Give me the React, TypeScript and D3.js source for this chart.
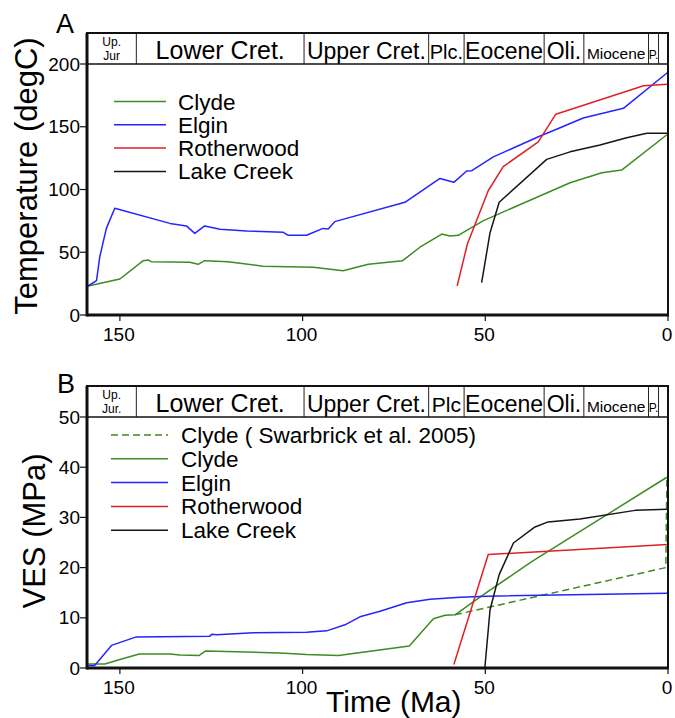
import React from "react";
import * as d3 from "d3";

// ---------- data ----------
const periodNamesTop = ["Up.|Jur", "Lower Cret.", "Upper Cret.", "Plc.", "Eocene", "Oli.", "Miocene", "P.", ""];
const periodNamesBottom = ["Up.|Jur.", "Lower Cret.", "Upper Cret.", "Plc", "Eocene", "Oli.", "Miocene", "P.", ""];
const periodBounds = [159, 145.5, 99.6, 65.5, 55.8, 33.9, 23.03, 5.33, 2.59, 0];

const timeTicks = [150, 100, 50, 0];
const tempTicks = [0, 50, 100, 150, 200];
const vesTicks = [0, 10, 20, 30, 40, 50];

// Panel A: temperature (degC)
const clydeTempAge = [158.7, 150, 143.6, 142.3, 141.4, 130.9, 128.6, 126.8, 120.4, 110.8, 97.1, 88.9, 82, 72.6, 67.9, 61.9, 59.7, 57.4, 50.5, 26.8, 18.1, 12.7, 0.3];
const clydeTemp = [23.1, 28.7, 43.3, 43.8, 42.5, 42, 40.4, 43.3, 42.5, 38.8, 38, 35.3, 40.4, 43.3, 54, 64.5, 63, 63.5, 75.2, 105.4, 113.4, 115.5, 143.6];
const elginTempAge = [158.7, 156.4, 155.5, 153.7, 151.4, 136.3, 131.8, 129.5, 126.8, 122.6, 115.3, 105.3, 103.9, 98.9, 94.4, 93, 91.2, 72, 62.4, 58.6, 55.1, 53.7, 47.8, 35, 30.5, 23.2, 12.2, 0.2];
const elginTemp = [23.1, 27.3, 46.5, 69, 85, 73, 71, 65, 71, 68.3, 67, 65.9, 63.5, 63.5, 69, 68.5, 74.4, 89.8, 108.8, 105.7, 114.7, 115, 126, 142.6, 148, 157, 164.7, 193];
const rotherTempAge = [57.7, 54.9, 49.2, 45.1, 35.5, 30.7, 6.7, 0.2];
const rotherTemp = [23.1, 56.6, 99, 118.2, 138, 160, 182.7, 183.8];
const lakeTempAge = [51, 48.7, 46.2, 33.2, 26.8, 18.6, 11.3, 5.8, 0.2];
const lakeTemp = [25.8, 65.6, 89.8, 124, 130, 135.5, 141.3, 144.8, 144.8];

// Panel B: VES (MPa)
const swarbrickAge = [58.3, 0.6, 0.3];
const swarbrickVes = [10.6, 20, 38];
const clydeVesAge = [158.7, 154.1, 150, 144.7, 136.3, 133.6, 128.3, 126.5, 115.3, 106.2, 98.9, 90.2, 70.8, 64.2, 61, 58.3, 50.5, 37.3, 0.3];
const clydeVes = [0.8, 0.8, 1.7, 2.8, 2.8, 2.6, 2.5, 3.4, 3.2, 3.0, 2.7, 2.5, 4.4, 9.8, 10.5, 10.6, 14.6, 21.2, 38];
const elginVesAge = [158.7, 156.9, 152.3, 145.5, 125.4, 124.9, 123.5, 113.5, 98.9, 93.4, 88.4, 84.3, 78.8, 71.5, 65.1, 56.9, 49.6, 0.2];
const elginVes = [0.5, 0.5, 4.5, 6.2, 6.3, 6.7, 6.6, 7, 7.1, 7.4, 8.6, 10.2, 11.3, 13, 13.7, 14.1, 14.3, 14.9];
const rotherVesAge = [58.6, 49.2, 0.2];
const rotherVes = [0.7, 22.6, 24.6];
const lakeVesAge = [50.1, 48.7, 46.2, 42.3, 36.4, 32.8, 24.1, 9, 0.2];
const lakeVes = [0.2, 11.6, 18.6, 24.9, 28.1, 29.1, 29.7, 31.4, 31.6];

const legendTop = ["Clyde", "Elgin", "Rotherwood", "Lake Creek"];
const legendBottom = ["Clyde ( Swarbrick et al. 2005)", "Clyde", "Elgin", "Rotherwood", "Lake Creek"];

// ---------- styles ----------
const GREEN = "#3c8c22";
const BLUE = "#2424ff";
const RED = "#de2027";
const BLACK = "#161616";
const FONT = "'Liberation Sans', Arial, Helvetica, sans-serif";

const periodFont: Record<string, number> = {
  "Lower Cret.": 25, "Upper Cret.": 23, "Plc.": 20, "Plc": 21, "Eocene": 23, "Oli.": 23, "Miocene": 15.5, "P.": 12,
};

const X0 = 87, X1 = 668;

type Series = { t: number[]; v: number[]; color: string; dash?: string };

function Panel(props: {
  top: number; headerBottom: number; bottom: number; yMax: number; ticks: number[];
  names: string[]; series: Series[]; legend: { name: string; color: string; dash?: string }[];
  legendX: [number, number, number]; legendY0: number; legendStep: number;
  label: string; labelPos: [number, number]; title: string; titleX: number; titleY: number;
}) {
  const x = d3.scaleLinear().domain([159, 0]).range([X0, X1]);
  const y = d3.scaleLinear().domain([0, props.yMax]).range([props.bottom, props.headerBottom]);
  const line = d3.line<[number, number]>().x(d => x(d[0])).y(d => y(d[1])).curve(d3.curveLinear);
  const hTop = props.top, hBot = props.headerBottom;
  return (
    <g>
      {/* header boxes */}
      {props.names.map((n, i) => {
        const xa = x(periodBounds[i]), xb = x(periodBounds[i + 1]);
        const cx = (xa + xb) / 2;
        if (n.includes("|")) {
          const [a, b] = n.split("|");
          return (
            <g key={i}>
              <text x={cx} y={hTop + 13} fontSize={12} textAnchor="middle" fontFamily={FONT}>{a}</text>
              <text x={cx} y={hTop + 27} fontSize={12} textAnchor="middle" fontFamily={FONT}>{b}</text>
            </g>
          );
        }
        return (
          <text key={i} x={cx} y={hBot - 5} fontSize={periodFont[n] || 14} textAnchor="middle" fontFamily={FONT}>{n}</text>
        );
      })}
      {periodBounds.slice(1, -1).map((b, i) => (
        <line key={i} x1={x(b)} x2={x(b)} y1={hTop} y2={hBot} stroke="#222" strokeWidth={1} />
      ))}
      <line x1={X0} x2={X1} y1={hBot} y2={hBot} stroke="#111" strokeWidth={1.5} />
      {/* series */}
      {props.series.map((s, i) => (
        <path key={i} d={line(s.t.map((t, j) => [t, s.v[j]] as [number, number])) || ""} fill="none"
          stroke={s.color} strokeWidth={1.5} strokeDasharray={s.dash} strokeLinejoin="round" />
      ))}
      {/* frame */}
      <rect x={X0} y={hTop} width={X1 - X0} height={props.bottom - hTop} fill="none" stroke="#111" strokeWidth={2} />
      <line x1={X0} x2={X0} y1={hTop} y2={props.bottom + 1.5} stroke="#111" strokeWidth={3} />
      <line x1={X0} x2={X1 + 1} y1={props.bottom} y2={props.bottom} stroke="#111" strokeWidth={3} />
      {/* y ticks */}
      {props.ticks.map(t => (
        <g key={t}>
          <line x1={X0 - 7} x2={X0} y1={y(t)} y2={y(t)} stroke="#111" strokeWidth={1.2} />
          <text x={X0 - 7} y={y(t) + 6.5} fontSize={19} textAnchor="end" fontFamily={FONT}>{t}</text>
        </g>
      ))}
      {/* x ticks */}
      {timeTicks.map(t => (
        <g key={t}>
          <line x1={x(t)} x2={x(t)} y1={props.bottom} y2={props.bottom + 6} stroke="#111" strokeWidth={1.2} />
          <text x={x(t) - 1} y={props.bottom + 26} fontSize={19} textAnchor="middle" fontFamily={FONT}>{t}</text>
        </g>
      ))}
      {/* legend */}
      {props.legend.map((l, i) => {
        const ly = props.legendY0 + i * props.legendStep;
        return (
          <g key={i}>
            <line x1={props.legendX[0]} x2={props.legendX[1]} y1={ly} y2={ly} stroke={l.color} strokeWidth={1.5} strokeDasharray={l.dash ? "7 4" : undefined} />
            <text x={props.legendX[2]} y={ly + 8} fontSize={22.5} fontFamily={FONT}>{l.name}</text>
          </g>
        );
      })}
      {/* labels */}
      <text x={props.labelPos[0]} y={props.labelPos[1]} fontSize={27} fontFamily={FONT}>{props.label}</text>
      <text transform={`translate(${props.titleX},${props.titleY}) rotate(-90)`} fontSize={31} textAnchor="middle" fontFamily={FONT}>{props.title}</text>
    </g>
  );
}

export default function App() {
  const seriesA: Series[] = [
    { t: clydeTempAge, v: clydeTemp, color: GREEN },
    { t: elginTempAge, v: elginTemp, color: BLUE },
    { t: rotherTempAge, v: rotherTemp, color: RED },
    { t: lakeTempAge, v: lakeTemp, color: BLACK },
  ];
  const seriesB: Series[] = [
    { t: swarbrickAge, v: swarbrickVes, color: GREEN, dash: "7 4" },
    { t: clydeVesAge, v: clydeVes, color: GREEN },
    { t: elginVesAge, v: elginVes, color: BLUE },
    { t: rotherVesAge, v: rotherVes, color: RED },
    { t: lakeVesAge, v: lakeVes, color: BLACK },
  ];
  const colorsA = [GREEN, BLUE, RED, BLACK];
  const colorsB = [GREEN, GREEN, BLUE, RED, BLACK];
  return (
    <svg width={675} height={718} style={{ position: "absolute", left: 0, top: 0, background: "#fff" }}>
      <rect width={675} height={718} fill="#fff" />
      <Panel top={33} headerBottom={64} bottom={315} yMax={200} ticks={tempTicks}
        names={periodNamesTop} series={seriesA}
        legend={legendTop.map((n, i) => ({ name: n, color: colorsA[i] }))}
        legendX={[114, 166, 178]} legendY0={101.5} legendStep={23.3}
        label="A" labelPos={[56, 33]} title="Temperature (degC)" titleX={37} titleY={176} />
      <Panel top={386} headerBottom={417} bottom={668} yMax={50} ticks={vesTicks}
        names={periodNamesBottom} series={seriesB}
        legend={legendBottom.map((n, i) => ({ name: n, color: colorsB[i], dash: i === 0 ? "y" : undefined }))}
        legendX={[111, 168, 181]} legendY0={435} legendStep={23.8}
        label="B" labelPos={[57, 393]} title="VES (MPa)" titleX={45} titleY={531} />
      <text x={326} y={712} fontSize={30} fontFamily={FONT}>Time (Ma)</text>
    </svg>
  );
}
